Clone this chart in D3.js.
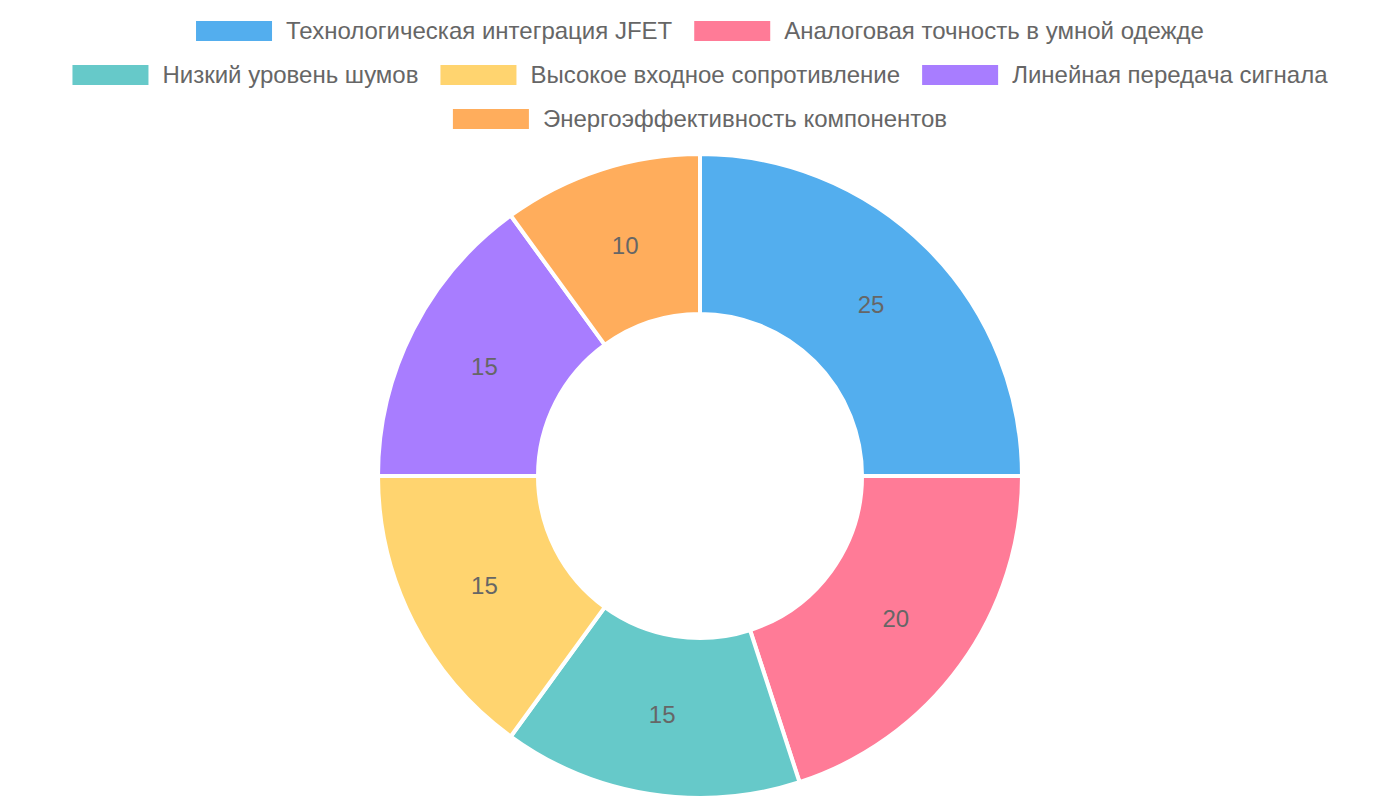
<!DOCTYPE html>
<html lang="ru">
<head>
    <meta charset="UTF-8">
    <title>Доля технологий JFET</title>
    <script src="https://d3js.org/d3.v7.min.js"></script>
    <style>
        body { margin: 0; background: #fff; }
        text { font-family: "Liberation Sans", Arial, Helvetica, sans-serif; }
    </style>
</head>
<body>
<div id="chart"></div>
<script>
    // -- Données --
    const categories = [
        "Технологическая интеграция JFET",
        "Аналоговая точность в умной одежде",
        "Низкий уровень шумов",
        "Высокое входное сопротивление",
        "Линейная передача сигнала",
        "Энергоэффективность компонентов"
    ];
    const values = [25, 20, 15, 15, 15, 10];
    const colors = ["#53aeee", "#ff7b97", "#66c9c9", "#ffd46f", "#a87dff", "#ffad5c"];

    // -- Dimensions --
    const width = 1400, height = 800;
    const cx = 700, cy = 476;
    const outerR = 322, innerR = 162;
    const fontSize = 24;

    const svg = d3.select("#chart").append("svg")
        .attr("width", width)
        .attr("height", height);

    // -- Légende --
    const boxW = 76, boxH = 20, textGap = 14, itemGap = 22, maxRow = 1300;
    const rowY = [31, 75, 119];

    const legend = svg.append("g");
    const items = legend.selectAll("g")
        .data(categories)
        .enter()
        .append("g");

    items.append("rect")
        .attr("width", boxW)
        .attr("height", boxH)
        .attr("y", -boxH / 2)
        .attr("fill", (d, i) => colors[i]);

    items.append("text")
        .attr("x", boxW + textGap)
        .attr("dy", "0.35em")
        .attr("font-size", fontSize)
        .attr("fill", "#666")
        .text(d => d);

    // rangement en lignes centrées
    const rows = [[]];
    let rowW = 0;
    items.each(function(d, i) {
        const w = boxW + textGap + this.querySelector("text").getComputedTextLength();
        const add = rows[rows.length - 1].length ? itemGap + w : w;
        if (rowW + add > maxRow && rows[rows.length - 1].length) {
            rows.push([]);
            rowW = w;
        } else {
            rowW += add;
        }
        rows[rows.length - 1].push({ node: this, w: w });
    });
    rows.forEach((row, r) => {
        const total = d3.sum(row, d => d.w) + itemGap * (row.length - 1);
        let x = width / 2 - total / 2;
        row.forEach(it => {
            d3.select(it.node).attr("transform", `translate(${x},${rowY[r]})`);
            x += it.w + itemGap;
        });
    });

    // -- Anneau --
    const pie = d3.pie().sort(null).value(d => d);
    const arc = d3.arc().innerRadius(innerR).outerRadius(outerR);
    const labelArc = d3.arc().innerRadius((innerR + outerR) / 2).outerRadius((innerR + outerR) / 2);

    const g = svg.append("g").attr("transform", `translate(${cx},${cy})`);

    g.selectAll("path")
        .data(pie(values))
        .enter()
        .append("path")
        .attr("d", arc)
        .attr("fill", (d, i) => colors[i])
        .attr("stroke", "#fff")
        .attr("stroke-width", 4)
        .attr("stroke-linejoin", "round");

    g.selectAll("text.val")
        .data(pie(values))
        .enter()
        .append("text")
        .attr("class", "val")
        .attr("transform", d => `translate(${labelArc.centroid(d)})`)
        .attr("text-anchor", "middle")
        .attr("dy", "0.35em")
        .attr("font-size", fontSize)
        .attr("fill", "#666")
        .text(d => d.data);
</script>
</body>
</html>
